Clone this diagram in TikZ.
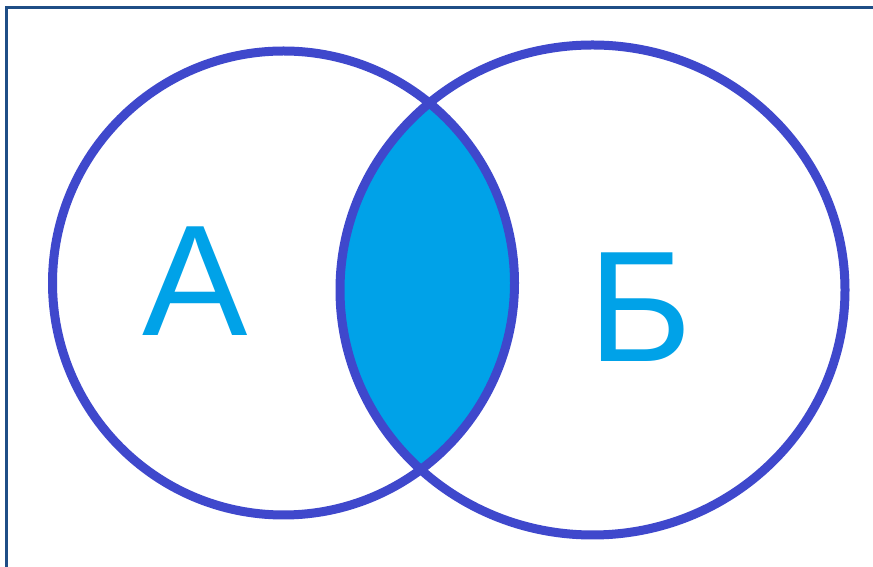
\documentclass[tikz,border=0pt]{standalone}
\usepackage{fontspec}
\setmainfont{Liberation Sans}
\definecolor{ringblue}{HTML}{3F48CC}
\definecolor{fillblue}{HTML}{00A2E8}
\definecolor{frameblue}{HTML}{1F4E86}
\begin{document}
\begin{tikzpicture}[x=1pt,y=1pt,
  ring/.style={draw=ringblue,line width=9pt},
  letter/.style={text=fillblue,font=\fontsize{158}{158}\selectfont,inner sep=0pt},
  frameline/.style={draw=frameblue,line width=3pt}]
\useasboundingbox (0,0) rectangle (873,567);
\fill[white] (0,0) rectangle (873,567);
% lens
\begin{scope}
  \clip (283.5,284) ellipse [x radius=231, y radius=232];
  \fill[fillblue] (592.5,277) ellipse [x radius=252.5, y radius=245];
\end{scope}
\draw[ring] (283.5,284) ellipse [x radius=231, y radius=232];
\draw[ring] (592.5,277) ellipse [x radius=252.5, y radius=245];
\node[letter] (a) at (195,286) {А};
\node[letter] (b) at (640,260) {Б};
\coordinate (tl) at (6,559);
\coordinate (bl) at (6,0);
\coordinate (tr) at (873,559);
\draw[frameline] (bl) -- (tl) -- (tr);
\end{tikzpicture}
\end{document}
